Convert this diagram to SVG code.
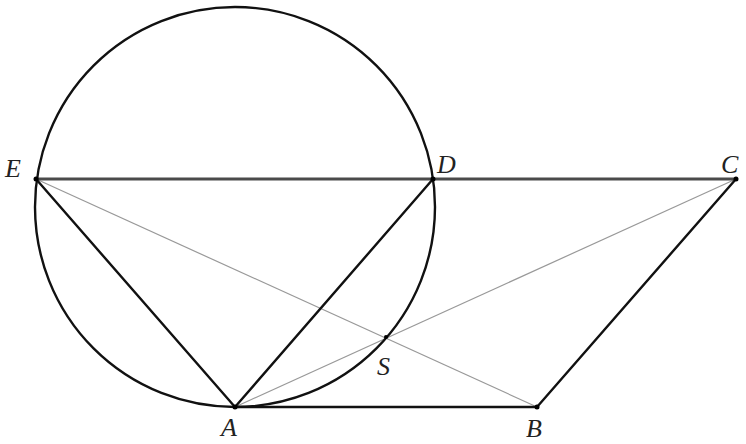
<svg xmlns="http://www.w3.org/2000/svg" width="746" height="444" viewBox="0 0 746 444">
<style>
.thick{stroke:#111;stroke-width:2.4;fill:none;stroke-linecap:round}
.gray{stroke:#4a4a4a;stroke-width:2.8;fill:none}
.thin{stroke:#999;stroke-width:1.2;fill:none}
.lbl{font-family:"Liberation Serif",serif;font-style:italic;font-size:26px;fill:#222}
.pt{fill:#000}
</style>
<rect width="746" height="444" fill="#fff"/>
<g id="connectors">
<line class="thin" x1="36" y1="179" x2="537" y2="407"/>
<line class="thin" x1="235" y1="407" x2="736" y2="179"/>
<line class="gray" x1="36" y1="179" x2="736" y2="179"/>
<line class="thick" x1="36" y1="179" x2="235" y2="407"/>
<line class="thick" x1="235" y1="407" x2="433" y2="179"/>
<line class="thick" x1="235" y1="407" x2="537" y2="407"/>
<line class="thick" x1="537" y1="407" x2="736" y2="179"/>
</g>
<g id="circle"><circle class="thick" cx="235" cy="207" r="200"/></g>
<g id="E"><circle class="pt" cx="36" cy="179" r="2.5"/><text class="lbl" x="5" y="177">E</text></g>
<g id="D"><circle class="pt" cx="433" cy="179" r="2.5"/><text class="lbl" x="437" y="173">D</text></g>
<g id="C"><circle class="pt" cx="736" cy="179" r="2.5"/><text class="lbl" x="721" y="173">C</text></g>
<g id="A"><circle class="pt" cx="235" cy="407" r="2.5"/><text class="lbl" x="221" y="436">A</text></g>
<g id="B"><circle class="pt" cx="537" cy="407" r="2.5"/><text class="lbl" x="526" y="437">B</text></g>
<g id="S"><circle class="pt" cx="386" cy="337" r="2"/><text class="lbl" x="377" y="375">S</text></g>
</svg>
